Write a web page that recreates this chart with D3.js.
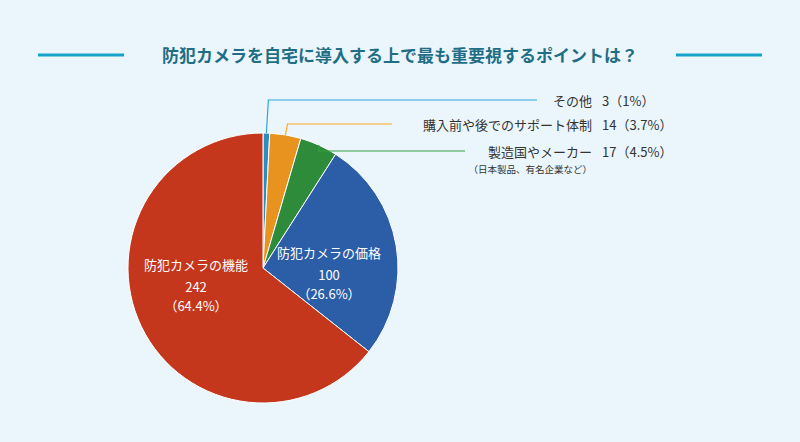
<!DOCTYPE html>
<html><head><meta charset="utf-8">
<script src="https://cdn.jsdelivr.net/npm/d3@7"></script>
<style>
body{margin:0;background:#eaf6fc;font-family:"Noto Sans CJK JP","Noto Sans",sans-serif}
</style></head><body>
<svg id="chart" width="800" height="442"></svg>
<script>
const labels = ['その他', '購入前や後でのサポート体制', '製造国やメーカー', '防犯カメラの価格', '防犯カメラの機能']
const values = [3, 14, 17, 100, 242]
const pcts = ['1%', '3.7%', '4.5%', '26.6%', '64.4%']
const colors = ['#2a8fc0', '#e8921f', '#2e8b3a', '#2b5ea6', '#c4371d']

const svg = d3.select('#chart')
svg.append('rect').attr('width', 800).attr('height', 442).attr('fill', '#eaf6fc')

// title
svg.append('text').attr('x', 400).attr('y', 62).attr('text-anchor', 'middle')
	.attr('font-size', 17).attr('font-weight', 'bold').attr('fill', '#1f6e86')
	.text('防犯カメラを自宅に導入する上で最も重要視するポイントは？')
svg.append('line').attr('x1', 38).attr('x2', 124).attr('y1', 55).attr('y2', 55).attr('stroke', '#17a3c9').attr('stroke-width', 3)
svg.append('line').attr('x1', 676).attr('x2', 762).attr('y1', 55).attr('y2', 55).attr('stroke', '#17a3c9').attr('stroke-width', 3)

const cx = 263, cy = 268, r = 135
const g = svg.append('g').attr('transform', 'translate(' + cx + ',' + cy + ')')
const pie = d3.pie().sort(null).value(d => d)
const arcs = pie(values)
const arc = d3.arc().innerRadius(0).outerRadius(r)

g.selectAll('path').data(arcs).enter().append('path')
	.attr('d', arc)
	.attr('fill', (d, i) => colors[i])
	.attr('stroke', '#fff').attr('stroke-width', 1)

// outside labels with leader lines
const outside = [
	{ i: 0, ly: 100, lx: 537, ty: 106 },
	{ i: 1, ly: 124, lx: 392, ty: 130 },
	{ i: 2, ly: 151, lx: 465, ty: 157 }
]
outside.forEach(o => {
	const a = arcs[o.i]
	const mid = (a.startAngle + a.endAngle) / 2
	const px = cx + Math.sin(mid) * r
	const py = cy - Math.cos(mid) * r
	let pts
	if (o.i === 2) pts = [[px, py], [px, o.ly], [o.lx, o.ly]]
	else pts = [[px, py], [px + 2, o.ly], [o.lx, o.ly]]
	svg.append('path').attr('d', d3.line()(pts)).attr('fill', 'none')
		.attr('stroke', d3.color(colors[o.i]).brighter(0.4)).attr('stroke-width', 1.2)
	svg.append('text').attr('x', 592).attr('y', o.ty).attr('text-anchor', 'end')
		.attr('font-size', 13).attr('fill', '#333').text(labels[o.i])
	svg.append('text').attr('x', 602).attr('y', o.ty)
		.attr('font-size', 13).attr('fill', '#333').text(values[o.i] + '（' + pcts[o.i] + '）')
})
svg.append('text').attr('x', 592).attr('y', 173).attr('text-anchor', 'end')
	.attr('font-size', 9.5).attr('fill', '#333').text('（日本製品、有名企業など）')

// inside labels
const inside = [
	{ i: 3, x: 329, y: 258 },
	{ i: 4, x: 196, y: 270 }
]
inside.forEach(o => {
	const t = svg.append('text').attr('text-anchor', 'middle').attr('fill', '#fff').attr('font-size', 13)
	t.append('tspan').attr('x', o.x).attr('y', o.y).text(labels[o.i])
	t.append('tspan').attr('x', o.x).attr('y', o.y + 22).text(values[o.i])
	t.append('tspan').attr('x', o.x).attr('y', o.y + 41).text('（' + pcts[o.i] + '）')
})
</script>
</body></html>
